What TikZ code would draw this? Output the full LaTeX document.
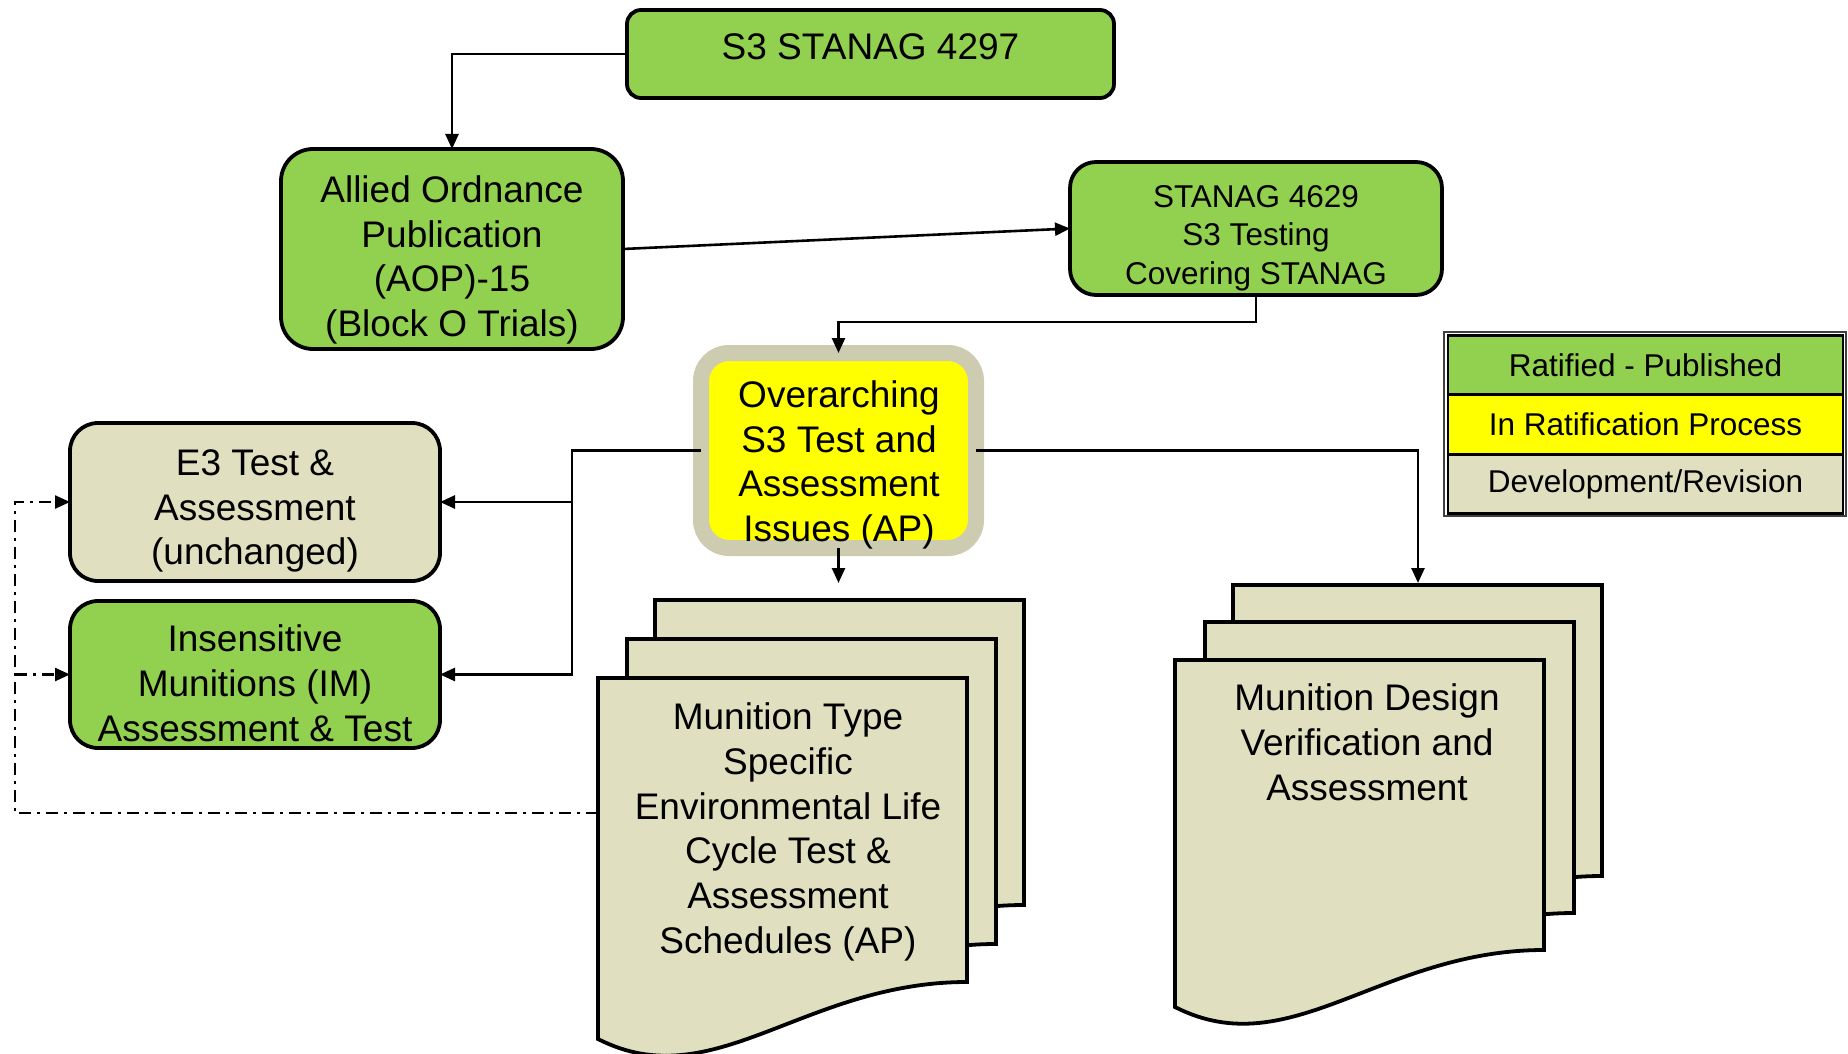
\documentclass[tikz,border=0pt]{standalone}
\usepackage{fontspec}
\setmainfont{Liberation Sans}
\usetikzlibrary{arrows.meta,calc}

\definecolor{okgreen}{HTML}{92D050}
\definecolor{pendyellow}{HTML}{FFFF00}
\definecolor{devtan}{HTML}{E0E0C0}
\definecolor{rimtan}{HTML}{CDCBB0}

% one sheet of a stacked document symbol: x0, y0 (top left), width, height of the right edge
\newcommand\docsheet[4]{%
  \pgfmathsetmacro\dsR{#1+#3}%
  \pgfmathsetmacro\dsB{#2+#4}%
  \pgfmathsetmacro\dsL{#2+#4+57}%
  \pgfmathsetmacro\dsCa{#1+0.557*#3}%
  \pgfmathsetmacro\dsCb{#1+0.313*#3}%
  \pgfmathsetmacro\dsD{#2+#4+116}%
  \draw[sheet] (#1,#2) -- (\dsR,#2) -- (\dsR,\dsB)
    .. controls (\dsCa,\dsB) and (\dsCb,\dsD) .. (#1,\dsL) -- cycle;
}

\tikzset{
  box/.style={draw=black, line width=3.8pt, outer sep=0pt, inner sep=0pt},
  sheet/.style={draw=black, line width=3.8pt, fill=devtan, line join=miter},
  bigtext/.style={font=\fontsize{37}{44.8}\selectfont, align=center, inner sep=0pt},
  midtext/.style={font=\fontsize{31.5}{38.3}\selectfont, align=center, inner sep=0pt},
  tip/.style={-{Triangle[length=15pt,width=13pt]}},
  link/.style={line width=2.6pt, line join=miter},
  dashlink/.style={line width=2.4pt, dash pattern=on 12pt off 6pt on 3pt off 6pt},
  legrow/.style={draw=black, line width=2.2pt, minimum width=395pt, minimum height=59pt,
    inner sep=0pt, outer sep=0pt, font=\fontsize{31.5}{38.3}\selectfont},
}

\begin{document}
\begin{tikzpicture}[x=1pt,y=-1pt]
\useasboundingbox[fill=white] (0,0) rectangle (1848,1054);

% ---- boxes ----
\node[box, fill=okgreen, minimum width=487pt, minimum height=88pt, rounded corners=14pt]
  (s3) at (870.5,54) {};
\node[bigtext] (s3txt) at (870.5,46.5) {S3 STANAG 4297};

\node[box, fill=okgreen, minimum width=342pt, minimum height=200pt, rounded corners=32pt]
  (aop) at (452,249) {};
\node[bigtext] (aoptxt) at (452,260) {Allied Ordnance\\Publication\\(AOP)-15\\(Block O Trials)};

\node[box, fill=okgreen, minimum width=372pt, minimum height=133pt, rounded corners=26pt]
  (st) at (1256,228.5) {};
\node[midtext] (sttxt) at (1256,238) {STANAG 4629\\S3 Testing\\Covering STANAG};

\node[box, draw=rimtan, line width=16pt, fill=pendyellow, minimum width=275pt,
  minimum height=195pt, rounded corners=28pt] (ov) at (838.5,450.5) {};
\node[bigtext] (ovtxt) at (839,465) {Overarching\\S3 Test and\\Assessment\\Issues (AP)};

\node[box, fill=devtan, minimum width=370pt, minimum height=158pt, rounded corners=28pt]
  (e3) at (255,502) {};
\node[bigtext] (e3txt) at (255,511) {E3 Test \&\\Assessment\\(unchanged)};

\node[box, fill=okgreen, minimum width=370pt, minimum height=147pt, rounded corners=28pt]
  (im) at (255,674.5) {};
\node[bigtext] (imtxt) at (255,683) {Insensitive\\Munitions (IM)\\Assessment \& Test};

% ---- document stacks ----
\docsheet{655}{600}{369}{305}
\docsheet{627}{639}{369}{305}
\docsheet{598}{678}{369}{304}
\node[bigtext] (lifetxt) at (788,832)
  {Munition Type\\Specific\\Environmental Life\\Cycle Test \&\\Assessment\\Schedules (AP)};

\docsheet{1233}{585}{369}{291}
\docsheet{1205}{622}{369}{291}
\docsheet{1175}{660}{369}{290}
\node[bigtext] (designtxt) at (1367,742.5) {Munition Design\\Verification and\\Assessment};

\coordinate (lifetop) at (838.5,583);
\coordinate (designtop) at (1418,583);
\coordinate (lifeside) at (598,813);
\coordinate (split) at (572,450.5);
\coordinate (loop) at (15,813);

% ---- legend ----
\draw[black!75, line width=1.5pt] (1444,332) rectangle (1846,516);
\node[legrow, fill=okgreen] (legA) at (1645.5,365) {Ratified - Published};
\node[legrow, fill=pendyellow] (legB) at (1645.5,424.5) {In Ratification Process};
\node[legrow, fill=devtan] (legC) at (1645.5,484) {\raisebox{-2pt}{Development/Revision}};

% ---- connectors ----
\draw[link, tip] (s3.west) -| (aop.north);
\draw[link, tip] (aop.east) -- (st.west);
\draw[link, tip] (st.south) -- ++(0,27) -| (ov.north);
\draw[link, tip] (ov.west) -- (split) |- (im.east);
\draw[link, tip] (split |- e3.east) -- (e3.east);
\draw[link, tip] (ov.east) -| (designtop);
\draw[link, tip] (ov.south) -- (lifetop);

\draw[dashlink, tip] (lifeside) -- (loop) |- (e3.west);
\draw[dashlink, tip] (loop |- im.west) -- (im.west);
\end{tikzpicture}
\end{document}
